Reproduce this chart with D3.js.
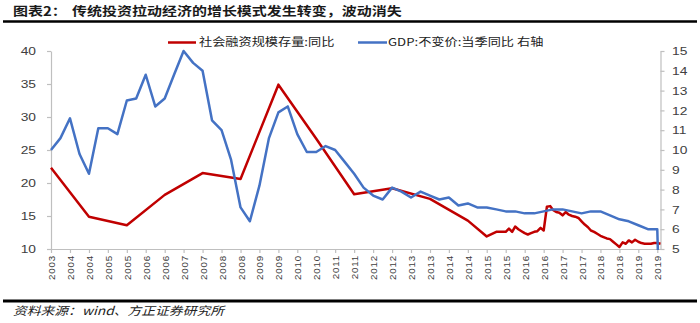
<!DOCTYPE html>
<html><head><meta charset="utf-8">
<script src="https://cdn.jsdelivr.net/npm/d3@7"></script>
<style>
body{margin:0;background:#fff;}
svg{display:block;}
</style>
</head><body>
<svg id="c" width="700" height="323"></svg>
<script>
// ---------------- data ----------------
const titleLead = "图表2：";
const titleText = "传统投资拉动经济的增长模式发生转变，波动消失";
const sourceText = "资料来源：wind、方正证券研究所";
const sfName = "社会融资规模存量:同比";
const gdpName = "GDP:不变价:当季同比 右轴";

// 社会融资规模存量:同比 (left axis, %)
const sfDates = ["2003-12","2004-12","2005-12","2006-12","2007-12","2008-12","2009-12","2010-12","2011-12","2012-12","2013-12","2014-12",
  "2015-06","2015-09","2015-12",
  "2016-01","2016-02","2016-03","2016-04","2016-05","2016-06","2016-07","2016-08","2016-09","2016-10","2016-11","2016-12",
  "2017-01","2017-02","2017-03","2017-04","2017-05","2017-06","2017-07","2017-08","2017-09","2017-10","2017-11","2017-12",
  "2018-01","2018-02","2018-03","2018-04","2018-05","2018-06","2018-07","2018-08","2018-09","2018-10","2018-11","2018-12",
  "2019-01","2019-02","2019-03","2019-04","2019-05","2019-06","2019-07","2019-08","2019-09","2019-10","2019-11","2019-12",
  "2020-01"];
const sfValues = [22.3,14.9,13.6,18.2,21.5,20.6,34.9,26.7,18.3,19.2,17.6,14.3,
  11.9,12.6,12.6,
  13.1,12.6,13.4,13.0,12.7,12.4,12.2,12.4,12.6,12.7,13.2,12.8,
  16.4,16.5,15.9,15.6,15.5,15.1,15.6,15.2,15.0,14.9,14.7,14.2,
  13.7,13.3,12.8,12.6,12.3,12.0,11.8,11.6,11.5,11.1,10.7,10.3,
  11.0,10.8,11.3,11.0,11.4,11.1,10.9,10.8,10.8,10.8,10.9,10.9,
  10.8];

// GDP:不变价:当季同比 (right axis, %), quarterly
const gdpDates = ["2003-12",
  "2004-03","2004-06","2004-09","2004-12","2005-03","2005-06","2005-09","2005-12",
  "2006-03","2006-06","2006-09","2006-12","2007-03","2007-06","2007-09","2007-12",
  "2008-03","2008-06","2008-09","2008-12","2009-03","2009-06","2009-09","2009-12",
  "2010-03","2010-06","2010-09","2010-12","2011-03","2011-06","2011-09","2011-12",
  "2012-03","2012-06","2012-09","2012-12","2013-03","2013-06","2013-09","2013-12",
  "2014-03","2014-06","2014-09","2014-12","2015-03","2015-06","2015-09","2015-12",
  "2016-03","2016-06","2016-09","2016-12","2017-03","2017-06","2017-09","2017-12",
  "2018-03","2018-06","2018-09","2018-12","2019-03","2019-06","2019-09","2019-12",
  "2020-01"];
const gdpValues = [10.0,
  10.6,11.6,9.8,8.8, 11.1,11.1,10.8,12.5,
  12.6,13.8,12.2,12.6, 13.8,15.0,14.4,14.0,
  11.5,11.0,9.5,7.1, 6.4,8.2,10.6,11.9,
  12.2,10.8,9.9,9.9, 10.2,10.0,9.4,8.8,
  8.1,7.7,7.5,8.1, 7.9,7.6,7.9,7.7,
  7.5,7.6,7.2,7.3, 7.1,7.1,7.0,6.9,
  6.9,6.8,6.8,6.9, 7.0,7.0,6.9,6.8,
  6.9,6.9,6.7,6.5, 6.4,6.2,6.0,6.0,
  0];

const leftTicks = [10,15,20,25,30,35,40];
const rightTicks = [5,6,7,8,9,10,11,12,13,14,15];
const xTickLabels = ["2003","2004","2004","2005","2005","2006","2006","2007","2007","2008","2008",
  "2009","2009","2010","2010","2011","2011","2012","2012","2013","2013","2014","2014",
  "2015","2015","2016","2016","2017","2017","2018","2018","2019","2019"];

// ---------------- chart ----------------
const parse = d3.timeParse("%Y-%m");
const SX = 1.2; // horizontal stretch of the reference text
const RED = "#C00000", BLUE = "#4472C4", AX = "#BFBFBF", TXT = "#404040";
const svg = d3.select("#c");
const cjk = "'Noto Sans CJK SC','Noto Sans',sans-serif";
const latin = "'Liberation Sans',Arial,sans-serif";

const x = d3.scaleTime().domain([parse("2003-12"), parse("2020-01")]).range([51, 660.5]);
const yL = d3.scaleLinear().domain([10,40]).range([249,51]);
const yR = d3.scaleLinear().domain([5,15]).range([249,51]);

// title
const tg = svg.append("g").attr("transform", `scale(${SX},1)`);
tg.append("text").attr("x", 13/SX).attr("y", 16.5).text(titleLead)
  .style("font-family", cjk).style("font-size","12.5px").style("font-weight","bold").attr("fill","#1a1a1a");
tg.append("text").attr("x", 72/SX).attr("y", 16.5).text(titleText)
  .style("font-family", cjk).style("font-size","12.5px").style("font-weight","bold").attr("fill","#1a1a1a");
svg.append("line").attr("x1",3).attr("x2",697).attr("y1",21.5).attr("y2",21.5)
  .attr("stroke","#000").attr("stroke-width",2.5);

// footer
svg.append("line").attr("x1",3).attr("x2",697).attr("y1",301).attr("y2",301)
  .attr("stroke","#000").attr("stroke-width",3);
svg.append("g").attr("transform", `scale(${SX},1)`)
  .append("text").attr("x", 13/SX).attr("y", 315.5).text(sourceText)
  .style("font-family", cjk).style("font-size","11.5px").style("font-style","italic").attr("fill","#222");

// axes
const gx = svg.append("g").attr("transform","translate(0,249)")
  .call(d3.axisBottom(x)
    .tickValues(d3.range(xTickLabels.length).map(i => d3.timeMonth.offset(parse("2003-12"), 6*i)))
    .tickFormat((d,i) => xTickLabels[i]).tickSize(4).tickSizeOuter(0));
gx.selectAll("text").attr("transform","rotate(-90)").attr("text-anchor","end")
  .attr("x",-6).attr("y",0).attr("dy","0.36em")
  .style("font-family",latin).style("font-size","9.8px").style("letter-spacing","0.8px").attr("fill",TXT);

const gl = svg.append("g").attr("transform","translate(51,0)")
  .call(d3.axisLeft(yL).tickValues(leftTicks).tickSize(4).tickSizeOuter(0));
gl.selectAll("text").attr("x", -15/SX).attr("transform",`scale(${SX},1)`)
  .style("font-family",latin).style("font-size","11.5px").attr("fill",TXT);

const gr = svg.append("g").attr("transform","translate(660.5,0)")
  .call(d3.axisRight(yR).tickValues(rightTicks).tickSize(4).tickSizeOuter(0));
gr.selectAll("text").attr("x", 11.5/SX).attr("transform",`scale(${SX},1)`)
  .style("font-family",latin).style("font-size","11.5px").attr("fill",TXT);

[gx,gl,gr].forEach(g => {
  g.select(".domain").attr("stroke",AX).attr("stroke-width",1.2);
  g.selectAll(".tick line").attr("stroke",AX).attr("stroke-width",1.2);
});

// clip to plot bottom
svg.append("defs").append("clipPath").attr("id","plotclip")
  .append("rect").attr("x",0).attr("y",0).attr("width",700).attr("height",250);

const sfData = sfDates.map((d,i)=>({date:parse(d), v:sfValues[i]}));
const gdpData = gdpDates.map((d,i)=>({date:parse(d), v:gdpValues[i]}));

const plot = svg.append("g").attr("clip-path","url(#plotclip)");
plot.append("path").datum(sfData)
  .attr("d", d3.line().x(d=>x(d.date)).y(d=>yL(d.v)))
  .attr("fill","none").attr("stroke",RED).attr("stroke-width",2.5).attr("stroke-linejoin","round");
plot.append("path").datum(gdpData)
  .attr("d", d3.line().x(d=>x(d.date)).y(d=>yR(d.v)))
  .attr("fill","none").attr("stroke",BLUE).attr("stroke-width",2.5).attr("stroke-linejoin","round");

// legend
const legend = [{name:sfName, color:RED, x1:168, x2:196, tx:199},
                {name:gdpName, color:BLUE, x1:358, x2:387, tx:388}];
legend.forEach(l => {
  svg.append("line").attr("x1",l.x1).attr("x2",l.x2).attr("y1",42.5).attr("y2",42.5)
    .attr("stroke",l.color).attr("stroke-width",2.5);
  svg.append("g").attr("transform",`scale(${SX},1)`).append("text")
    .attr("x", l.tx/SX).attr("y", 42.5).attr("dy","0.36em").text(l.name)
    .style("font-family",cjk).style("font-size","11px").attr("fill","#222");
});
</script>
</body></html>
